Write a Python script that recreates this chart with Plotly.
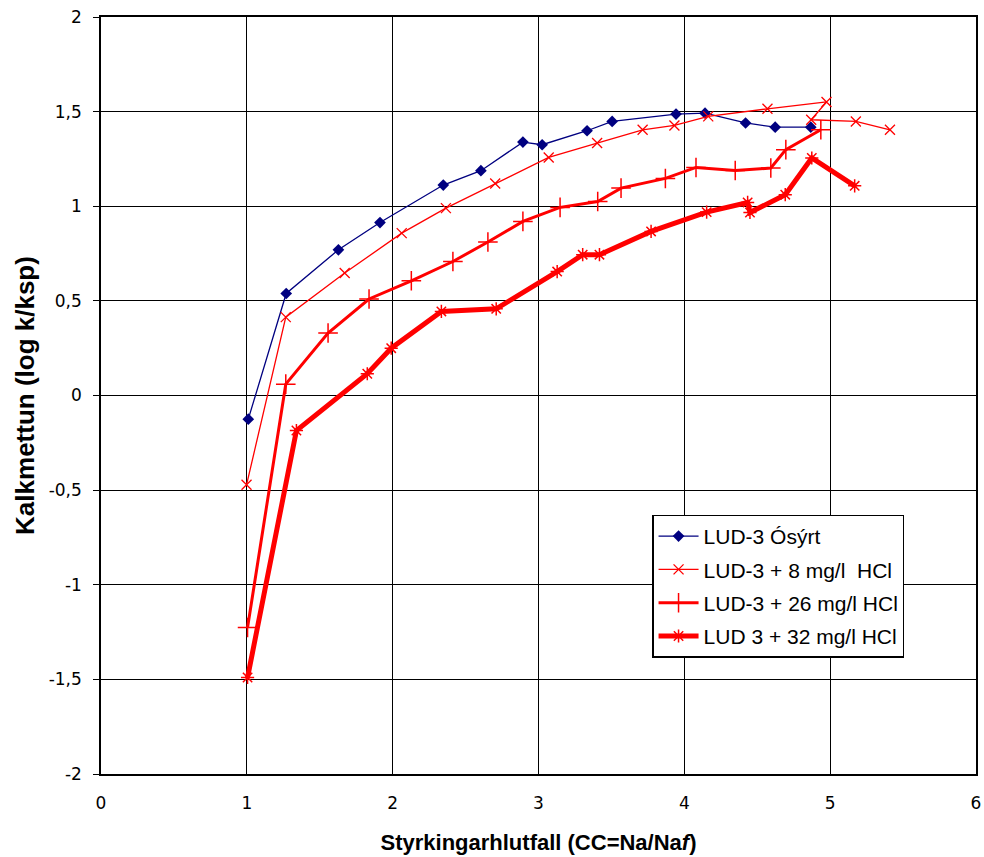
import plotly.graph_objects as go

s1_name = "LUD-3 Ósýrt"
s1_x = [1.01, 1.27, 1.628, 1.913, 2.347, 2.605, 2.893, 3.025, 3.333, 3.505, 3.943, 4.142, 4.42, 4.623, 4.867]
s1_y = [-0.125, 0.539, 0.77, 0.914, 1.112, 1.188, 1.339, 1.325, 1.399, 1.448, 1.487, 1.492, 1.44, 1.418, 1.418]

s2_name = "LUD-3 + 8 mg/l  HCl"
s2_x = [0.998, 1.267, 1.671, 2.062, 2.365, 2.703, 3.07, 3.402, 3.714, 3.932, 4.164, 4.57, 4.975, 4.87, 5.176, 5.41]
s2_y = [-0.472, 0.414, 0.647, 0.858, 0.99, 1.12, 1.258, 1.334, 1.404, 1.427, 1.475, 1.515, 1.551, 1.457, 1.448, 1.404]

s3_name = "LUD-3 + 26 mg/l HCl"
s3_x = [1.005, 1.267, 1.557, 1.838, 2.128, 2.413, 2.653, 2.893, 3.148, 3.406, 3.566, 3.87, 4.08, 4.349, 4.593, 4.696, 4.936]
s3_y = [-1.226, 0.06, 0.33, 0.51, 0.606, 0.708, 0.811, 0.92, 0.994, 1.025, 1.096, 1.147, 1.205, 1.189, 1.202, 1.299, 1.404]

s4_name = "LUD 3 + 32 mg/l HCl"
s4_x = [1.005, 1.34, 1.826, 1.99, 2.334, 2.71, 3.128, 3.303, 3.418, 3.772, 4.153, 4.434, 4.45, 4.692, 4.874, 5.168]
s4_y = [-1.49, -0.185, 0.115, 0.25, 0.444, 0.458, 0.655, 0.744, 0.744, 0.867, 0.969, 1.02, 0.967, 1.061, 1.255, 1.108]

x_ticks = [0, 1, 2, 3, 4, 5, 6]
y_ticks = [2, 1.5, 1, 0.5, 0, -0.5, -1, -1.5, -2]
y_tick_text = ["2", "1,5", "1", "0,5", "0", "-0,5", "-1", "-1,5", "-2"]

fig = go.Figure()
fig.add_trace(go.Scatter(x=s1_x, y=s1_y, name=s1_name, mode="lines+markers", legendgroup="a",
                         line=dict(color="#000080", width=1.3),
                         marker=dict(symbol="diamond", size=9, color="#000080")))
fig.add_trace(go.Scatter(x=s2_x, y=s2_y, name=s2_name, mode="lines+markers", legendgroup="b",
                         line=dict(color="#FF0000", width=1.3),
                         marker=dict(symbol="x-thin-open", size=10, color="#FF0000",
                                     line=dict(color="#FF0000", width=1.3))))
fig.add_trace(go.Scatter(x=s3_x, y=s3_y, name=s3_name, mode="lines+markers", legendgroup="c",
                         line=dict(color="#FF0000", width=3),
                         marker=dict(symbol="cross-thin-open", size=14, color="#FF0000",
                                     line=dict(color="#FF0000", width=1.5))))
fig.add_trace(go.Scatter(x=s4_x, y=s4_y, name=s4_name, mode="lines+markers", legendgroup="d",
                         line=dict(color="#FF0000", width=5),
                         marker=dict(symbol="asterisk-open", size=11, color="#FF0000",
                                     line=dict(color="#FF0000", width=1.5))))

title_font = dict(family="Liberation Sans, Arial, sans-serif", weight="bold", color="black")

fig.update_layout(
    width=984, height=857,
    margin=dict(l=101, r=8, t=17, b=83),
    paper_bgcolor="white", plot_bgcolor="white",
    font=dict(family="Liberation Sans, Arial, sans-serif", size=16, color="black"),
    showlegend=True,
    legend=dict(x=0.630, y=0.3426, xanchor="left", yanchor="top",
                bgcolor="white", bordercolor="black", borderwidth=1.3,
                font=dict(family="Liberation Sans, Arial, sans-serif", size=21),
                tracegroupgap=3, itemwidth=40),
    xaxis=dict(range=[0, 6], tickvals=x_ticks, showgrid=True, gridcolor="black", gridwidth=1.3,
               showline=True, linecolor="black", linewidth=1.5, mirror=True,
               ticks="", zeroline=False, automargin=False,
               tickfont=dict(family="DejaVu Sans, sans-serif", size=17),
               ticklabelstandoff=13,
               title=dict(text="Styrkingarhlutfall (CC=Na/Na<i>f</i>)",
                          font=dict(size=22, **title_font), standoff=22)),
    yaxis=dict(range=[-2, 2], tickvals=y_ticks, ticktext=y_tick_text, showgrid=True,
               gridcolor="black", gridwidth=1.3,
               showline=True, linecolor="black", linewidth=1.5, mirror=True,
               ticks="outside", ticklen=6, tickcolor="black", zeroline=False, automargin=False,
               tickfont=dict(family="DejaVu Sans, sans-serif", size=17),
               ticklabelstandoff=8,
               title=dict(text="Kalkmettun (log k/ksp)",
                          font=dict(size=26, **title_font), standoff=7)),
)

fig.write_html("out.html", config={"displayModeBar": False},
               post_script="document.body.style.margin='0';document.body.style.overflow='hidden';")
